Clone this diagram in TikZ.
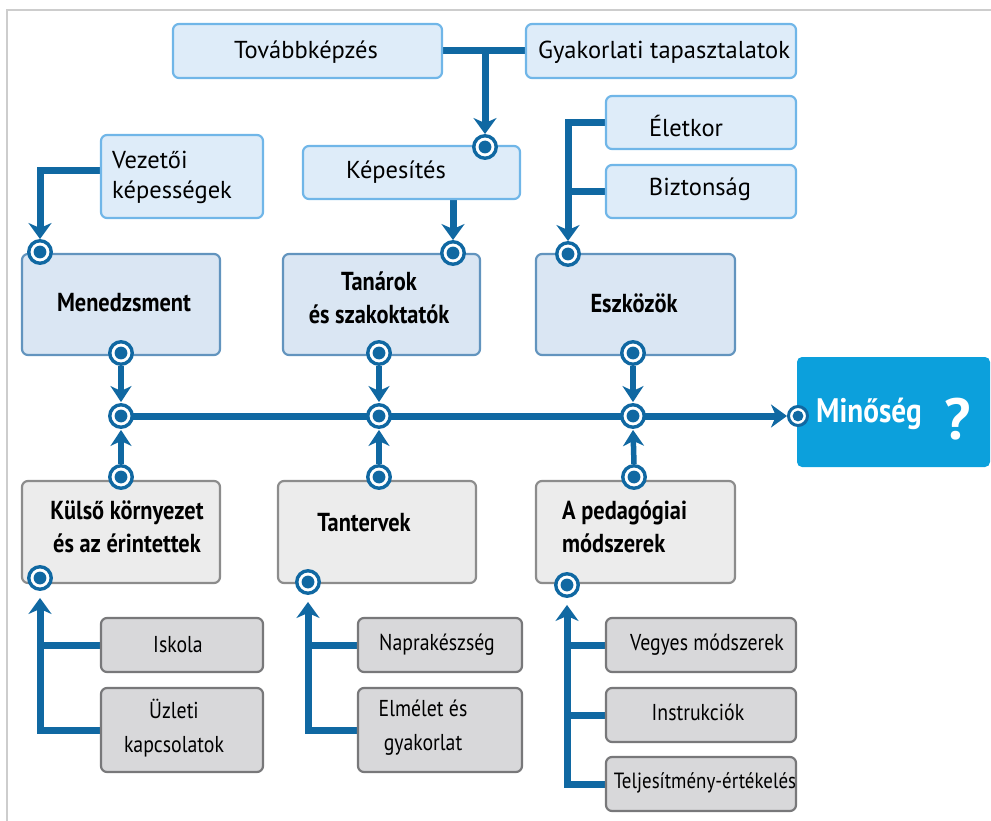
\documentclass[tikz,border=0pt]{standalone}
\usepackage{fontspec}
\setmainfont{PT Sans}
\newfontfamily\cond[FakeStretch=0.86]{PT Sans}
\usetikzlibrary{arrows.meta,backgrounds}

\definecolor{linkblue}{RGB}{16,104,162}
\definecolor{topfill}{RGB}{222,236,249}
\definecolor{topedge}{RGB}{112,182,232}
\definecolor{midfill}{RGB}{218,230,243}
\definecolor{midedge}{RGB}{98,148,190}
\definecolor{lowfill}{RGB}{236,236,236}
\definecolor{lowedge}{RGB}{140,140,140}
\definecolor{subfill}{RGB}{216,216,218}
\definecolor{subedge}{RGB}{120,120,122}
\definecolor{qualfill}{RGB}{12,160,220}
\definecolor{framegrey}{RGB}{205,205,205}

\begin{document}
\begin{tikzpicture}[x=1pt,y=-1pt,
  basebox/.style={rectangle, rounded corners=6pt, line width=2.2pt, inner sep=0pt},
  topbox/.style={basebox, fill=topfill, draw=topedge},
  midbox/.style={basebox, fill=midfill, draw=midedge},
  lowbox/.style={basebox, fill=lowfill, draw=lowedge},
  subbox/.style={basebox, fill=subfill, draw=subedge},
  qualbox/.style={rectangle, rounded corners=5pt, fill=qualfill, inner sep=0pt},
  port/.style={circle, draw=linkblue, line width=3.4pt, fill=white, minimum size=22.5pt, inner sep=0pt,
    path picture={\fill[linkblue] (path picture bounding box.center) circle (6.4pt);}},
  smallport/.style={port, line width=3pt, minimum size=19pt,
    path picture={\fill[linkblue] (path picture bounding box.center) circle (5.4pt);}},
  link/.style={draw=linkblue, line width=7pt},
  arrowlink/.style={link, -{Stealth[length=16pt,width=23pt,inset=5pt]}},
  stublink/.style={draw=linkblue, line width=5.5pt, -{Stealth[length=16pt,width=21pt,inset=5pt]}},
  toptext/.style={font=\fontsize{24.5}{30}\selectfont, inner sep=0pt, align=left},
  midtext/.style={font=\cond\bfseries\fontsize{26}{33}\selectfont, inner sep=0pt, align=center},
  subtext/.style={font=\cond\fontsize{23}{34}\selectfont, inner sep=0pt, align=center}
]
\useasboundingbox (0,0) rectangle (991,821);

% page frame
\draw[framegrey, line width=1.5pt] (991,10) -- (7,10) -- (7,821);

% upper boxes
\node[topbox, minimum width=269pt, minimum height=54pt] (T1) at (307.5,51) {};
\node[topbox, minimum width=270pt, minimum height=54pt] (T2) at (661,51) {};
\node[topbox, minimum width=217pt, minimum height=53pt] (K) at (411.5,172.5) {};
\node[topbox, minimum width=162pt, minimum height=83pt] (V) at (182,176.5) {};
\node[topbox, minimum width=190pt, minimum height=53pt] (E) at (701,122.5) {};
\node[topbox, minimum width=190pt, minimum height=53pt] (B) at (701,191.5) {};

% central boxes
\node[midbox, minimum width=198pt, minimum height=101pt] (M) at (121,304.5) {};
\node[midbox, minimum width=197pt, minimum height=101pt] (TS) at (381.5,304.5) {};
\node[midbox, minimum width=199pt, minimum height=101pt] (ES) at (635.5,304.5) {};
\node[qualbox, minimum width=193pt, minimum height=110pt] (Q) at (893.5,412) {};

% lower boxes
\node[lowbox, minimum width=198pt, minimum height=102pt] (KK) at (121,532) {};
\node[lowbox, minimum width=198pt, minimum height=102pt] (TT) at (377,532) {};
\node[lowbox, minimum width=199pt, minimum height=102pt] (PM) at (635.5,532) {};

\node[subbox, minimum width=162pt, minimum height=54pt] (I) at (182,645) {};
\node[subbox, minimum width=162pt, minimum height=84pt] (U) at (182,730) {};
\node[subbox, minimum width=164pt, minimum height=54pt] (N) at (440,645) {};
\node[subbox, minimum width=164pt, minimum height=84pt] (EG) at (440,730) {};
\node[subbox, minimum width=190pt, minimum height=54pt] (VM) at (701,645) {};
\node[subbox, minimum width=190pt, minimum height=54pt] (IN) at (701,715) {};
\node[subbox, minimum width=190pt, minimum height=54pt] (TE) at (701,784) {};

% texts
\node[toptext] (tT1) at (306,52) {Továbbképzés};
\node[toptext] (tT2) at (664,52) {Gyakorlati tapasztalatok};
\node[toptext] (tK) at (396,172) {Képesítés};
\node[toptext, anchor=west] (tV) at (112,177) {Vezetői\\képességek};
\node[toptext] (tE) at (686,126) {Életkor};
\node[toptext] (tB) at (700,189) {Biztonság};

\node[midtext] (tM) at (124,303) {Menedzsment};
\node[midtext] (tTS) at (379,298) {Tanárok\\és szakoktatók};
\node[midtext] (tES) at (634,303) {Eszközök};
\node[midtext] (tKK) at (127,527) {Külső környezet\\és az érintettek};
\node[midtext] (tTT) at (364,523) {Tantervek};
\node[midtext, anchor=west, align=left] (tPM) at (562,527) {A pedagógiai\\módszerek};

\node[subtext] (tI) at (178,645) {Iskola};
\node[subtext] (tU) at (174,728) {Üzleti\\kapcsolatok};
\node[subtext] (tN) at (437,645) {Naprakészség};
\node[subtext] (tEG) at (423,728) {Elmélet és\\gyakorlat};
\node[subtext] (tVM) at (707,645) {Vegyes módszerek};
\node[subtext] (tIN) at (698,712) {Instrukciók};
\node[subtext, font=\cond\fontsize{22}{34}\selectfont] (tTE) at (705,783) {Teljesítmény-értékelés};

\node[font=\cond\bfseries\fontsize{34}{38}\selectfont, text=white, inner sep=0pt, anchor=west] (tQ) at (816,414) {Minőség};
\node[font=\bfseries\fontsize{58}{62}\selectfont, text=white, inner sep=0pt] (tQm) at (958,419) {?};

% ports
\node[port] (pK) at (485,147) {};
\node[port] (pM1) at (40,252) {};
\node[port] (pT1) at (453,253) {};
\node[port] (pE1) at (568,254) {};
\node[port] (pM2) at (121,353) {};
\node[port] (pT2) at (379,353) {};
\node[port] (pE2) at (633,353) {};
\node[port] (J1) at (121,416) {};
\node[port] (J2) at (379,416) {};
\node[port] (J3) at (633,416) {};
\node[smallport] (pQ) at (798,416) {};
\node[port] (pK1) at (121,477) {};
\node[port] (pN1) at (379,477) {};
\node[port] (pP1) at (634,477) {};
\node[port] (pK2) at (40,578) {};
\node[port] (pN2) at (308,582) {};
\node[port] (pP2) at (567,585) {};

\coordinate (tj) at (485,51);

\begin{scope}[on background layer]
  % upper feeds
  \draw[link] (T1.east) -- (T2.west);
  \draw[arrowlink] (tj) -- (pK.north);
  \draw[arrowlink] ([yshift=6pt]V.west) -| (pM1.north);
  \draw[arrowlink] (K.south -| pT1) -- (pT1.north);
  \draw[arrowlink] (E.west) -| (pE1.north);
  \draw[link] (B.west) -- (B.west -| pE1);

  % central spine
  \draw[stublink, shorten >=1pt] (pM2.south) -- (J1.north);
  \draw[stublink, shorten >=1pt] (pT2.south) -- (J2.north);
  \draw[stublink, shorten >=1pt] (pE2.south) -- (J3.north);
  \draw[link] (J1.center) -- (J2.center) -- (J3.center);
  \draw[arrowlink] (J3.center) -- (pQ.west);
  \draw[stublink, shorten >=1pt] (pK1.north) -- (J1.south);
  \draw[stublink, shorten >=1pt] (pN1.north) -- (J2.south);
  \draw[stublink, shorten >=1pt] (pP1.north) -- (J3.south);

  % lower feeds
  \draw[arrowlink, shorten >=7pt] (U.west) -| (pK2.south);
  \draw[link] (I.west) -- (I.west -| pK2);
  \draw[arrowlink, shorten >=7pt] (EG.west) -| (pN2.south);
  \draw[link] (N.west) -- (N.west -| pN2);
  \draw[arrowlink, shorten >=7pt] (TE.west) -| (pP2.south);
  \draw[link] (VM.west) -- (VM.west -| pP2);
  \draw[link] (IN.west) -- (IN.west -| pP2);
\end{scope}
\end{tikzpicture}
\end{document}
